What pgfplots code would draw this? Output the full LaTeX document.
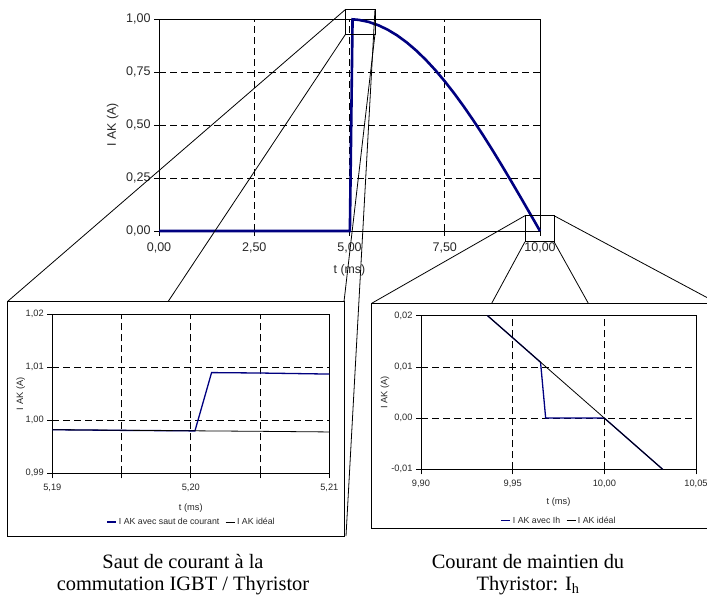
\documentclass[border=0pt]{standalone}
\usepackage{fontspec}
\setmainfont{Liberation Sans}
\newfontfamily\capfont{Liberation Serif}
\usepackage{pgfplots}
\pgfplotsset{compat=1.18}
\definecolor{navy}{RGB}{0,0,128}
\definecolor{lbl}{RGB}{40,40,40}

% common Excel-like look
\pgfplotsset{excel/.style={
  scale only axis, axis x line*=box, axis y line*=box,
  axis line style={black, line width=0.8bp},
  xmajorgrids, ymajorgrids,
  major grid style={black, dash pattern=on 7bp off 4bp, line width=0.7bp},
  tick align=outside, tick pos=left, major tick length=5bp,
  tick style={black, line width=0.7bp},
  scaled ticks=false,
  /pgf/number format/assume math mode=true,
  /pgf/number format/use comma,
  /pgf/number format/fixed,
  /pgf/number format/fixed zerofill,
  /pgf/number format/precision=2,
  ticklabel style={text=lbl},
  label style={text=lbl},
  ylabel style={rotate=0, anchor=center},
  xlabel style={anchor=center},
}}

\begin{document}
\begin{tikzpicture}[x=1bp,y=1bp]
\useasboundingbox (0,0) rectangle (707,600);

% main chart
\begin{axis}[excel, at={(159bp,369bp)}, anchor=south west,
  width=381bp, height=211.7bp, clip=false,
  xmin=0, xmax=10, ymin=0, ymax=1,
  xtick={0,2.5,5,7.5,10}, ytick={0,0.25,0.5,0.75,1},
  ticklabel style={font=\fontsize{12.6}{14}\selectfont},
  xticklabel style={yshift=-3bp},
  label style={font=\fontsize{12.4}{14}\selectfont},
  xlabel={t (ms)}, ylabel={I AK (A)},
  xlabel style={at={(axis description cs:0.5,-0.184)}},
  ylabel style={at={(axis description cs:-0.1215,0.5)}},
]
\addplot[navy, line width=2.6bp] coordinates {
(0,0) (5.01,0) (5.08,0.9997) (5.2,0.9980) (5.25,0.9969) (5.5,0.9877)
(5.75,0.9724) (6.0,0.9511) (6.25,0.9239) (6.5,0.8910) (6.75,0.8526)
(7.0,0.8090) (7.25,0.7604) (7.5,0.7071) (7.75,0.6494) (8.0,0.5878)
(8.25,0.5225) (8.5,0.4540) (8.75,0.3827) (9.0,0.3090) (9.25,0.2334)
(9.5,0.1564) (9.75,0.0785) (10.0,0)
};
\end{axis}

% callout lines
\begin{scope}[line width=0.8bp]
\draw (345.7,590.7) -- (7.3,298.3);
\draw (345.7,566) -- (168,298.3);
\draw (375,566) -- (344,298.3);
\draw (375,590.7) -- (346,64);
\draw (525,384.3) -- (371.7,296.7);
\draw (525,358.3) -- (491.7,296.7);
\draw (554,358.3) -- (588.3,296.7);
\draw (554,384.3) -- (717.7,296.7);
% zoom boxes in main chart
\draw (345.7,590.7) rectangle (375,566);
\draw (525,384.3) rectangle (554,358.3);
% inset frames with shadow
\draw[fill=white] (7.3,298.3) rectangle (344,64);
\draw[line width=1.6bp] (8,63.4) -- (344.6,63.4) -- (344.6,297.6);
\draw[fill=white] (371.7,296.7) rectangle (730,72);
\draw[line width=1.6bp] (372.4,71.4) -- (730,71.4);
\end{scope}

% left inset
\begin{axis}[excel, at={(52.3bp,126.7bp)}, anchor=south west,
  width=277bp, height=159bp,
  xmin=5.19, xmax=5.21, ymin=0.99, ymax=1.02,
  xtick={5.19,5.195,5.2,5.205,5.21},
  xticklabels={{5,19},{},{5,20},{},{5,21}},
  ytick={0.99,1.00,1.01,1.02},
  ticklabel style={font=\fontsize{9.3}{11}\selectfont},
  xticklabel style={yshift=-2bp},
  label style={font=\fontsize{9.3}{11}\selectfont},
  xlabel={t (ms)}, ylabel={I AK (A)},
  xlabel style={at={(axis description cs:0.5,-0.22)}},
  ylabel style={at={(axis description cs:-0.114,0.5)}},
  legend columns=2,
  legend style={at={(axis description cs:0.503,-0.306)}, anchor=center,
    draw=none, fill=none, font=\fontsize{8.8}{10}\selectfont, text=lbl,
    /tikz/every even column/.append style={column sep=4bp},
    inner sep=0pt},
  legend image code/.code={\draw[#1] (0bp,0bp) -- (9bp,0bp);},
]
\addplot[navy, line width=1.3bp] coordinates {
(5.19,0.99822) (5.195,0.99810) (5.2003,0.99800) (5.2015,1.00900)
(5.205,1.00892) (5.21,1.00872)
};
\addlegendentry{I AK avec saut de courant}
\addplot[black, line width=0.8bp] coordinates {
(5.19,0.99822) (5.195,0.99812) (5.2,0.99802) (5.205,0.99792) (5.21,0.99780)
};
\addlegendentry{I AK idéal}
\end{axis}

% right inset
\begin{axis}[excel, at={(421bp,130.7bp)}, anchor=south west,
  width=275bp, height=153.6bp,
  xmin=9.9, xmax=10.05, ymin=-0.01, ymax=0.02,
  xtick={9.9,9.95,10,10.05},
  ytick={-0.01,0,0.01,0.02},
  ticklabel style={font=\fontsize{9.3}{11}\selectfont},
  xticklabel style={yshift=-2bp},
  label style={font=\fontsize{9.3}{11}\selectfont},
  xlabel={t (ms)}, ylabel={I AK (A)},
  xlabel style={at={(axis description cs:0.5,-0.211)}},
  ylabel style={at={(axis description cs:-0.131,0.5)}},
  legend columns=2,
  legend style={at={(axis description cs:0.502,-0.335)}, anchor=center,
    draw=none, fill=none, font=\fontsize{8.8}{10}\selectfont, text=lbl,
    /tikz/every even column/.append style={column sep=4bp},
    inner sep=0pt},
  legend image code/.code={\draw[#1] (0bp,0bp) -- (9bp,0bp);},
]
\addplot[navy, line width=1.3bp] coordinates {
(9.9363,0.0200) (9.95,0.0157) (9.9652,0.0109) (9.968,0.0) (10.0,0.0)
(10.0318,-0.0100)
};
\addlegendentry{I AK avec Ih}
\addplot[black, line width=0.8bp] coordinates {
(9.9363,0.0200) (9.95,0.0157) (10.0,0.0) (10.0318,-0.0100)
};
\addlegendentry{I AK idéal}
\end{axis}

% captions
\begin{scope}[every node/.style={font=\capfont\fontsize{20.5}{24}\selectfont, inner sep=0pt}]
\node at (183,38) {Saut de courant à la};
\node at (183,14) {commutation IGBT / Thyristor};
\node at (528,38) {Courant de maintien du};
\node at (528,14) {Thyristor: I\textsubscript{h}};
\end{scope}
\end{tikzpicture}
\end{document}
